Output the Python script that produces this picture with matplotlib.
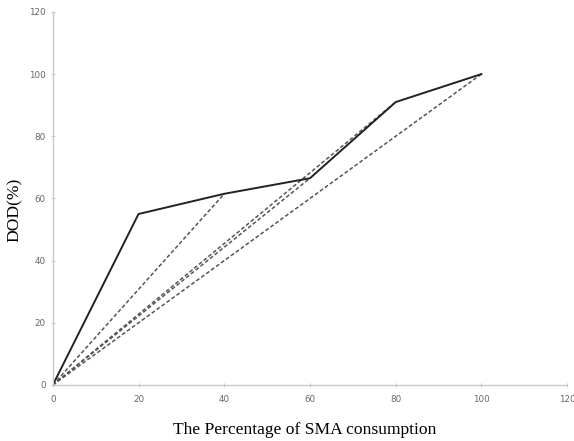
import matplotlib
matplotlib.use("Agg")
from matplotlib import pyplot as plt

# solid curve: DOD vs SMA consumption
sma = [0, 20, 40, 60, 80, 100]
dod = [0, 55, 61.5, 66.5, 91, 100]

# dashed chords from the origin to each point
chord_ends_x = [40, 60, 80, 100]
chord_ends_y = [61.5, 66.5, 91, 100]

x_ticks = [0, 20, 40, 60, 80, 100, 120]
y_ticks = [0, 20, 40, 60, 80, 100, 120]

fig = plt.figure(figsize=(5.74, 4.41), dpi=100)
ax = fig.add_axes([0.092, 0.127, 0.896, 0.846])

for xe, ye in zip(chord_ends_x, chord_ends_y):
    ax.plot([0, xe], [0, ye], linestyle=(0, (2.5, 1.5)), color="#555555", linewidth=1.1)
ax.plot(sma, dod, color="#222222", linewidth=1.4)

ax.set_xlim(0, 120)
ax.set_ylim(0, 120)
ax.set_xticks(x_ticks)
ax.set_yticks(y_ticks)

for side in ["top", "right"]:
    ax.spines[side].set_visible(False)
for side in ["left", "bottom"]:
    ax.spines[side].set_color("#c8c8c8")
    ax.spines[side].set_linewidth(1.0)
ax.tick_params(axis="both", colors="#c8c8c8", labelcolor="#666666", labelsize=6.3,
               length=3, direction="inout", width=0.8)
ax.tick_params(axis="x", pad=6)

ax.set_xlabel("The Percentage of SMA consumption", family="Liberation Serif",
              fontsize=12.6, va="center")
ax.set_ylabel("DOD(%)", family="Liberation Serif", fontsize=12.6, va="center")
ax.xaxis.set_label_coords(0.49, -0.121)
ax.yaxis.set_label_coords(-0.074, 0.47)

fig.savefig("out.png", dpi=100)
